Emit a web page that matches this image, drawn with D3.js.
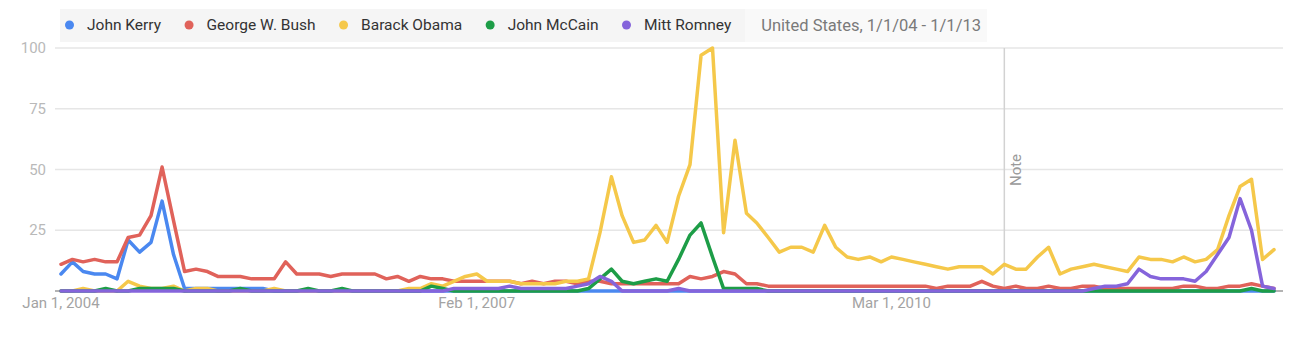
<!DOCTYPE html>
<html>
<head>
<meta charset="utf-8">
<script src="https://cdn.jsdelivr.net/npm/d3@7"></script>
<style>
  html, body { margin: 0; padding: 0; background: #fff; }
  svg { display: block; font-family: Roboto, "Noto Sans", sans-serif; }
</style>
</head>
<body>
<svg id="chart" width="1292" height="345"></svg>
<script>
// Monthly search interest, Jan 2004 – Jan 2013 (109 months), United States
const seriesNames = ["John Kerry", "George W. Bush", "Barack Obama", "John McCain", "Mitt Romney"];
const seriesColors = ["#4a88f0", "#e0625a", "#f5c84a", "#1d9d47", "#8564db"];

const kerry = [
  7, 12, 8, 7, 7, 5, 21, 16, 20, 37, 15, 1, 1, 1, 1, 1, 1, 1, 1, 0,
  0, 0, 0, 0, 0, 0, 0, 0, 0, 0, 0, 0, 0, 0, 0, 0, 0, 0, 0, 0,
  0, 0, 0, 0, 0, 0, 0, 0, 0, 0, 0, 0, 0, 0, 0, 0, 0, 0, 0, 0,
  0, 0, 0, 0, 0, 0, 0, 0, 0, 0, 0, 0, 0, 0, 0, 0, 0, 0, 0, 0,
  0, 0, 0, 0, 0, 0, 0, 0, 0, 0, 0, 0, 0, 0, 0, 0, 0, 0, 0, 0,
  0, 0, 0, 0, 0, 0, 0, 0, 0
];
const bush = [
  11, 13, 12, 13, 12, 12, 22, 23, 31, 51, 29, 8, 9, 8, 6, 6, 6, 5, 5, 5,
  12, 7, 7, 7, 6, 7, 7, 7, 7, 5, 6, 4, 6, 5, 5, 4, 4, 4, 4, 4,
  4, 3, 4, 3, 4, 4, 3, 4, 4, 3, 3, 3, 3, 3, 3, 3, 6, 5, 6, 8,
  7, 3, 3, 2, 2, 2, 2, 2, 2, 2, 2, 2, 2, 2, 2, 2, 2, 2, 1, 2,
  2, 2, 4, 2, 1, 2, 1, 1, 2, 1, 1, 2, 2, 1, 1, 1, 1, 1, 1, 1,
  2, 2, 1, 1, 2, 2, 3, 2, 1
];
const obama = [
  0, 0, 1, 0, 0, 0, 4, 2, 1, 1, 2, 0, 1, 1, 0, 0, 0, 0, 0, 1,
  0, 0, 0, 0, 0, 0, 0, 0, 0, 0, 0, 1, 1, 3, 2, 4, 6, 7, 4, 4,
  4, 3, 3, 3, 3, 4, 4, 5, 24, 47, 31, 20, 21, 27, 20, 39, 52, 97, 100, 24,
  62, 32, 28, 22, 16, 18, 18, 16, 27, 18, 14, 13, 14, 12, 14, 13, 12, 11, 10, 9,
  10, 10, 10, 7, 11, 9, 9, 14, 18, 7, 9, 10, 11, 10, 9, 8, 14, 13, 13, 12,
  14, 12, 13, 17, 31, 43, 46, 13, 17
];
const mccain = [
  0, 0, 0, 0, 1, 0, 0, 1, 1, 1, 1, 0, 0, 0, 0, 0, 1, 0, 0, 0,
  0, 0, 1, 0, 0, 1, 0, 0, 0, 0, 0, 0, 0, 2, 1, 0, 0, 0, 0, 0,
  0, 0, 0, 0, 0, 0, 0, 1, 5, 9, 4, 3, 4, 5, 4, 13, 23, 28, 14, 1,
  1, 1, 1, 0, 0, 0, 0, 0, 0, 0, 0, 0, 0, 0, 0, 0, 0, 0, 0, 0,
  0, 0, 0, 0, 0, 0, 0, 0, 0, 0, 0, 0, 0, 0, 0, 0, 0, 0, 0, 0,
  0, 0, 0, 0, 0, 0, 1, 0, 0
];
const romney = [
  0, 0, 0, 0, 0, 0, 0, 0, 0, 0, 0, 0, 0, 0, 0, 0, 0, 0, 0, 0,
  0, 0, 0, 0, 0, 0, 0, 0, 0, 0, 0, 0, 0, 0, 0, 1, 1, 1, 1, 1,
  2, 1, 1, 1, 1, 1, 2, 3, 6, 4, 0, 0, 0, 0, 0, 1, 0, 0, 0, 0,
  0, 0, 0, 0, 0, 0, 0, 0, 0, 0, 0, 0, 0, 0, 0, 0, 0, 0, 0, 0,
  0, 0, 0, 0, 0, 0, 0, 0, 0, 0, 0, 0, 1, 2, 2, 3, 9, 6, 5, 5,
  5, 4, 8, 15, 22, 38, 25, 2, 1
];
const seriesValues = [kerry, bush, obama, mccain, romney];

const yTicks = [25, 50, 75, 100];
const xTickDates = ["2004-01-01", "2007-02-01", "2010-03-01"];
const xTickLabels = ["Jan 1, 2004", "Feb 1, 2007", "Mar 1, 2010"];
const noteDate = "2011-01-01";
const noteLabel = "Note";
const regionLabel = "United States, 1/1/04 - 1/1/13";

const parse = d3.timeParse("%Y-%m-%d");
const firstMonth = parse("2004-01-01");
const lastMonth = parse("2013-01-01");
const months = d3.timeMonth.range(firstMonth, d3.timeDay.offset(lastMonth, 1));

const svg = d3.select("#chart");

const x = d3.scaleTime().domain([firstMonth, lastMonth]).range([61, 1274]);
const y = d3.scaleLinear().domain([0, 100]).range([291, 48]);
const gridLeft = 55, gridRight = 1283;

// Horizontal gridlines and value labels
svg.append("g").selectAll("line")
  .data(yTicks)
  .join("line")
  .attr("x1", gridLeft).attr("x2", gridRight)
  .attr("y1", d => y(d)).attr("y2", d => y(d))
  .attr("stroke", "#e6e6e6").attr("stroke-width", 1.5);

svg.append("g").selectAll("text")
  .data(yTicks)
  .join("text")
  .attr("x", 46).attr("y", d => y(d))
  .attr("text-anchor", "end")
  .attr("dominant-baseline", "central")
  .attr("font-size", 15)
  .attr("fill", "#b9b9b9")
  .text(d => d);

// Annotation marker
svg.append("line")
  .attr("x1", x(parse(noteDate))).attr("x2", x(parse(noteDate)))
  .attr("y1", y(100)).attr("y2", y(0))
  .attr("stroke", "#d2d2d2").attr("stroke-width", 1.5);
svg.append("text")
  .attr("transform", `translate(${x(parse(noteDate)) + 12},170) rotate(-90)`)
  .attr("text-anchor", "middle")
  .attr("dominant-baseline", "central")
  .attr("font-size", 15)
  .attr("fill", "#9a9a9a")
  .text(noteLabel);

// Baseline
svg.append("line")
  .attr("x1", gridLeft).attr("x2", gridRight)
  .attr("y1", y(0)).attr("y2", y(0))
  .attr("stroke", "#9a9a9a").attr("stroke-width", 1.5);

// Date labels
svg.append("g").selectAll("text")
  .data(xTickDates)
  .join("text")
  .attr("x", d => x(parse(d)))
  .attr("y", 308)
  .attr("text-anchor", "middle")
  .attr("font-size", 15)
  .attr("fill", "#a3a3a3")
  .text((d, i) => xTickLabels[i]);

// Series lines
const line = d3.line()
  .x((d, i) => x(months[i]))
  .y(d => y(d))
  .curve(d3.curveLinear);

svg.append("g").selectAll("path")
  .data(seriesValues)
  .join("path")
  .attr("d", d => line(d))
  .attr("fill", "none")
  .attr("stroke", (d, i) => seriesColors[i])
  .attr("stroke-width", 3.5)
  .attr("stroke-linejoin", "round")
  .attr("stroke-linecap", "round");

// Legend bar
const legend = svg.append("g");
const legendBg = legend.append("rect")
  .attr("x", 60).attr("y", 9).attr("height", 33)
  .attr("fill", "#f5f5f5");
const regionBg = legend.append("rect")
  .attr("y", 9).attr("height", 33)
  .attr("fill", "#f9f9f9");

let cx = 69.5;
seriesNames.forEach((name, i) => {
  legend.append("circle")
    .attr("cx", cx).attr("cy", 25).attr("r", 4.5)
    .attr("fill", seriesColors[i]);
  const t = legend.append("text")
    .attr("x", cx + 17.5).attr("y", 25)
    .attr("dominant-baseline", "central")
    .attr("font-size", 15.5)
    .attr("fill", "#333")
    .text(name);
  cx = cx + 17.5 + t.node().getComputedTextLength() + 28;
});
const regionStart = cx - 28 + 14;
legendBg.attr("width", regionStart - 60);
const rt = legend.append("text")
  .attr("x", cx - 28 + 30).attr("y", 25)
  .attr("dominant-baseline", "central")
  .attr("font-size", 16.5)
  .attr("fill", "#7a7a7a")
  .text(regionLabel);
regionBg.attr("x", regionStart)
  .attr("width", (cx - 28 + 30) + rt.node().getComputedTextLength() + 6 - regionStart);
</script>
</body>
</html>
